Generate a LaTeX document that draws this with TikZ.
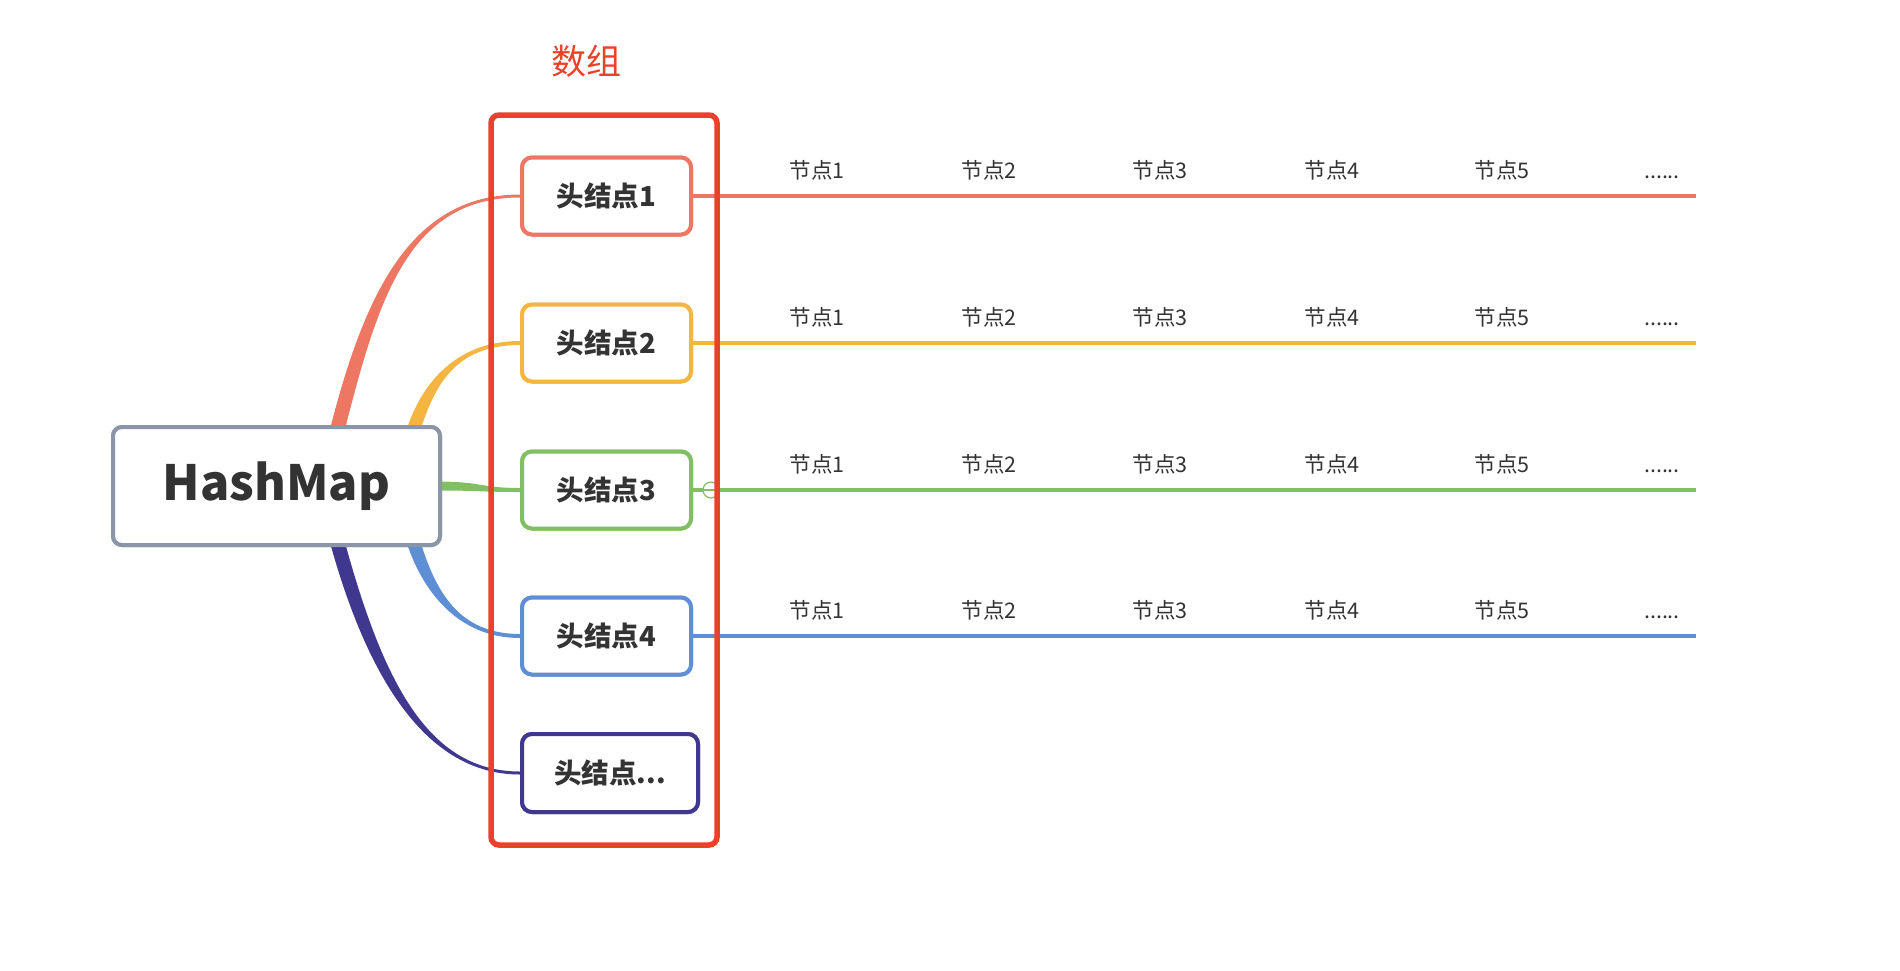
\documentclass[tikz,border=0pt]{standalone}
\usepackage{fontspec}
\usetikzlibrary{calc}
\newfontfamily\cjk{Noto Sans CJK SC}
\definecolor{cred}{HTML}{EE7763}
\definecolor{corange}{HTML}{F4B541}
\definecolor{cgreen}{HTML}{80BF62}
\definecolor{cblue}{HTML}{5E8FD5}
\definecolor{cpurple}{HTML}{3F388E}
\definecolor{cframe}{HTML}{EA4129}
\definecolor{cgray}{HTML}{8A95A8}
\definecolor{ctext}{HTML}{333333}
\newcommand\tapercurve[7]{%
  \fill[#1] ($(#2)+({-(#6)/2},0)$) .. controls ($(#3)+({-(#6)/2},0)$) and ($(#4)+(0,{-(#7)/2})$) .. ($(#5)+(0,{-(#7)/2})$)
   -- ($(#5)+(0,{(#7)/2})$) .. controls ($(#4)+(0,{(#7)/2})$) and ($(#3)+({(#6)/2},0)$) .. ($(#2)+({(#6)/2},0)$) -- cycle;}
\begin{document}
\begin{tikzpicture}[x=1pt,y=-1pt,
  headbox/.style={draw=#1, line width=4pt, rounded corners=10pt, fill=white, minimum width=169pt, minimum height=77pt, inner sep=0pt,
    font=\cjk\bfseries\fontsize{27.5}{30}\selectfont, text=ctext},
  rootbox/.style={draw=cgray, line width=4pt, rounded corners=9pt, fill=white, minimum width=327pt, minimum height=118pt, inner sep=0pt,
    font=\cjk\bfseries\fontsize{48.5}{56}\selectfont, text=ctext},
  rowline/.style={draw=#1, line width=4pt},
  lbl/.style={anchor=base, font=\cjk\fontsize{21.5}{24}\selectfont, text=ctext, inner sep=0pt}]
\useasboundingbox[fill=white] (0,0) rectangle (1900,970);

% root
\node[rootbox] (hm) at (276.5,486) {HashMap};

% head nodes
\node[headbox=cred] (h1) at (606.5,196) {头结点1};
\node[headbox=corange] (h2) at (606.5,343) {头结点2};
\node[headbox=cgreen] (h3) at (606.5,490) {头结点3};
\node[headbox=cblue] (h4) at (606.5,636) {头结点4};
\node[headbox=cpurple, minimum width=176pt, minimum height=78pt] (h5) at (610,773) {头结点...};

% curve anchors
\coordinate (s1) at ($(hm.north)+(60,8)$);
\coordinate (s2) at ($(hm.north)+(136,8)$);
\coordinate (s4) at ($(hm.south)+(136,-8)$);
\coordinate (s5) at ($(hm.south)+(60,-8)$);

% connectors (root and heads redrawn on top)
\tapercurve{cred}{s1}{$(s1)+(34,-134)$}{$(h1.west)+(-112,0)$}{h1.west}{15}{3}
\tapercurve{corange}{s2}{$(s2)+(16,-52)$}{$(h2.west)+(-62,0)$}{h2.west}{14}{4}
\tapercurve{cblue}{s4}{$(s4)+(16,52)$}{$(h4.west)+(-62,0)$}{h4.west}{-14}{4}
\tapercurve{cpurple}{s5}{$(s5)+(39,143)$}{$(h5.west)+(-92,0)$}{h5.west}{-15}{3}
\fill[cgreen] ($(hm.east)+(-6,-4.5)$) .. controls ($(hm.east)+(40,-4.5)$) and ($(h3.west)+(-40,-2)$) .. ($(h3.west)+(0,-2)$)
  -- ($(h3.west)+(0,2)$) .. controls ($(h3.west)+(-40,2)$) and ($(hm.east)+(40,4.5)$) .. ($(hm.east)+(-6,4.5)$) -- cycle;

\node[rootbox] at (hm) {HashMap};
\node[headbox=cred] at (h1) {头结点1};
\node[headbox=corange] at (h2) {头结点2};
\node[headbox=cgreen] at (h3) {头结点3};
\node[headbox=cblue] at (h4) {头结点4};
\node[headbox=cpurple, minimum width=176pt, minimum height=78pt] at (h5) {头结点...};

% row lines
\coordinate (e1) at (1696,196);
\coordinate (e2) at (1696,343);
\coordinate (e3) at (1696,490);
\coordinate (e4) at (1696,636);
\draw[rowline=cred] (h1.east) -- (e1);
\draw[rowline=corange] (h2.east) -- (e2);
\draw[rowline=cgreen] (h3.east) -- (e3);
\draw[rowline=cblue] (h4.east) -- (e4);

% collapse marker on row 3
\node[circle, draw=cgreen, line width=1.2pt, fill=white, minimum size=16pt, inner sep=0pt] (cm) at (711,490) {};
\draw[cgreen, line width=1.2pt] (cm.west) -- (cm.east);

% row labels
\foreach \r/\yy in {1/196,2/343,3/490,4/636}{
  \node[lbl] (n\r a) at (817,\yy-18) {节点1};
  \node[lbl] (n\r b) at (989,\yy-18) {节点2};
  \node[lbl] (n\r c) at (1160,\yy-18) {节点3};
  \node[lbl] (n\r d) at (1332,\yy-18) {节点4};
  \node[lbl] (n\r e) at (1502,\yy-18) {节点5};
  \node[lbl] (n\r f) at (1662,\yy-18) {......};
}

% array frame
\draw[cframe, line width=5.5pt, rounded corners=8pt] (491,115) rectangle (717,845);
\node[font=\cjk\fontsize{35}{40}\selectfont, text=cframe, inner sep=0pt] (arr) at (586,61) {数组};
\end{tikzpicture}
\end{document}
